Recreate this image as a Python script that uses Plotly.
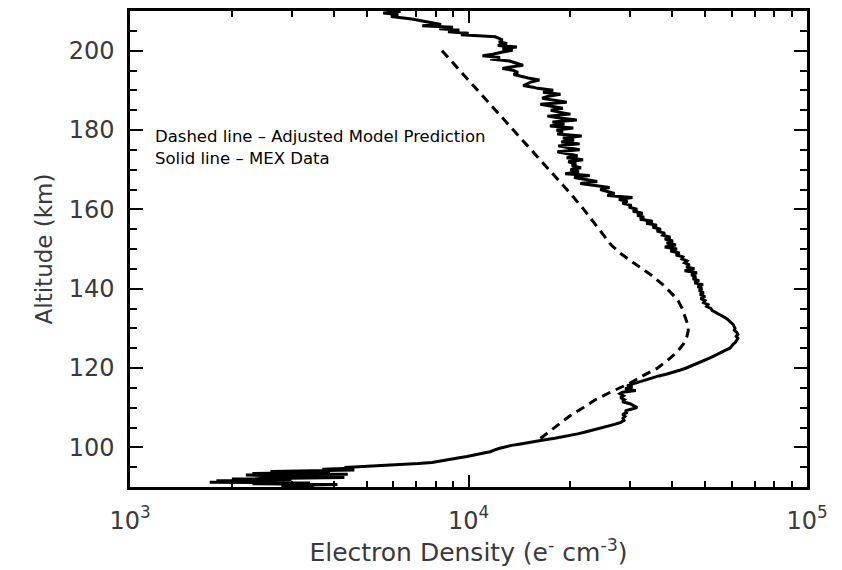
import plotly.graph_objects as go

# ---------------- data ----------------
model_alt = [200, 196, 192, 188, 184, 180, 176, 172, 168, 164, 160, 156, 153, 151, 149, 147,
             145, 143, 141, 139, 137, 135, 133, 131, 129.5, 128, 126, 124, 122, 120, 118, 116,
             114, 112, 110, 108, 106, 104, 102, 101.5]
model_ne = [8350, 9200, 10150, 11200, 12350, 13600, 15000, 16500, 18200, 20000, 21900, 23800,
            25200, 26400, 28000, 30100, 32600, 35200, 37500, 39600, 41600, 42800, 43700, 44400,
            44600, 44200, 43100, 41300, 38800, 36200, 32700, 29700, 26400, 23700, 21800, 20000,
            18600, 17300, 16200, 15900]

mex_alt = [
    209.9, 209.5, 209.1, 208.6, 208.0, 207.3, 206.6, 206.3, 205.9, 205.5, 205.2, 204.8, 204.4,
    204.0, 203.7, 203.5, 203.1, 202.7, 202.2, 201.8, 201.3, 200.9, 200.5, 200.1, 199.6, 199.1,
    198.7, 198.3, 197.9, 197.4, 196.9, 196.3, 195.9, 195.5, 195.0, 194.5, 194.0, 193.6, 193.1,
    192.6, 192.1, 191.6, 191.2, 190.8,
    190.5, 190.0, 189.5, 189.0, 188.5, 188.0, 187.5, 187.0, 186.5, 186.0, 185.5, 185.0, 184.5,
    184.0, 183.5, 183.0, 182.5, 182.0, 181.5, 181.0, 180.5, 180.0, 179.5, 179.0, 178.5, 178.0,
    177.5, 177.0, 176.5, 176.0, 175.5, 175.0, 174.5, 174.0, 173.5, 173.0, 172.5, 172.0, 171.5,
    171.0, 170.5, 170.0, 169.5, 169.0, 168.5, 168.0, 167.5, 167.0, 166.5, 166.0, 165.5, 165.0,
    164.5, 164.0, 163.5, 163.0, 162.5, 162.0, 161.5, 161.0, 160.5, 160.0, 159.5, 159.0, 158.5,
    158.0, 157.5, 157.0, 156.5, 156.0, 155.5, 155.0, 154.5, 154.0, 153.5, 153.0, 152.5, 152.0,
    151.5, 151.0, 150.5, 150.0, 149.5, 149.0, 148.5, 148.0, 147.5, 147.0, 146.5, 146.0, 145.5,
    145.0, 144.5, 144.0, 143.5, 143.0, 142.5, 142.0, 141.5, 141.0, 140.5, 140.0, 139.5, 139.0,
    138.5, 138.0, 137.5, 137.0, 136.5, 136.0, 135.5, 135.0,
    134.5, 134.0, 133.5, 133.0, 132.5, 132.0, 131.5, 131.0, 130.5, 130.0, 129.5, 129.0, 128.5,
    128.0, 127.5, 127.0, 126.5, 126.0, 125.5, 125.0, 124.5, 124.0, 123.5, 123.0, 122.5, 122.0,
    121.5, 121.0, 120.5, 120.0, 119.5, 119.0, 118.5, 118.0, 117.5, 117.0, 116.5, 116.0, 115.5,
    115.2, 114.8, 114.3, 113.9, 113.5, 113.0, 112.5, 112.0, 111.5, 111.0, 110.5, 110.0, 109.6,
    109.2, 108.8, 108.3, 107.8, 107.3, 106.8, 106.3, 105.8, 105.4, 105.0, 104.6, 104.2, 103.8,
    103.4, 103.0, 102.6, 102.3, 102.0, 101.7, 101.4, 101.1, 100.8, 100.5, 100.1, 99.7, 99.3,
    98.9, 98.5, 98.1, 97.7, 97.3, 96.9, 96.5, 96.2, 95.9, 95.7, 95.5, 95.3, 95.1, 94.9,
    94.7, 94.5, 94.3, 94.1, 93.9, 93.7, 93.4, 93.2, 93.0, 92.8, 92.6, 92.4, 92.2, 92.0, 91.8,
    91.6, 91.4, 91.2, 91.0, 90.8, 90.6, 90.4, 90.2, 90.0]
mex_ne = [
    6300, 5600, 6200, 5900, 6800, 7600, 8300, 7300, 9000, 8200, 9400, 8700, 10000,
    9500, 10800, 12000, 12300, 12600, 12300, 13000, 12200, 13900, 12600, 13500, 12500, 11800,
    11000, 12400, 11600, 13200, 13800, 14500, 13300, 12600, 13600, 14000, 13600, 14200, 15000,
    16200, 15300, 14900, 14500, 15500,
    16000, 17800, 16600, 18700, 17200, 16500, 18000, 19500, 16300, 17800, 19000, 17500, 18500,
    20000, 17100, 18600, 20900, 17700, 19200, 17400, 20400, 18200, 19000, 18300, 21600, 19000,
    20500, 18800, 21300, 18400, 20000, 21300, 18300, 19800, 21000, 19500, 21800, 19700, 20800,
    20200, 21500, 20000, 21200, 19300, 22800, 20500, 22000, 24000, 21400, 23500, 26100, 24500,
    25600, 27000, 25700, 30500, 27800, 29500, 28500, 30300, 29800, 31500, 30600, 32700, 31500,
    33000, 32100, 35000, 33500, 36000, 35000, 37000, 36000, 38000, 37500, 39500, 38000, 40200,
    38500, 41000, 38000, 41300, 39500, 42000, 41000, 43000, 42700, 44200, 43500, 45000, 44000,
    46500, 43500, 47300, 45500, 47000, 46000, 48000, 46500, 49300, 47500, 49000, 48000, 49500,
    48300, 50000, 48500, 50000, 49500, 51000, 50500, 52000,
    52500, 54000, 55300, 56500, 57800, 58700, 59500, 60500, 60900, 61300, 61000, 62000, 62500,
    61800, 62500, 62000, 61500, 60500, 60000, 59200, 57500, 56000, 55000, 53000, 51500, 50000,
    48500, 46800, 45500, 44000, 42300, 40500, 38600, 36500, 34800, 33200, 31800, 30600, 29400,
    30500, 29000, 31200, 28500, 28000, 28700, 28100, 28900, 28500, 30000, 30800, 31500, 30200,
    29000, 29500, 28500, 29000, 28600, 28800, 28200, 27000, 26000, 25000, 24000, 23000, 22000,
    21000, 20000, 19000, 18000, 17000, 16300, 15500, 14800, 14100, 13400, 12700, 12300, 11900,
    11600, 11000, 10500, 9900, 9300, 8800, 8300, 7800, 7100, 6400, 5800, 5200, 4700, 4300,
    4500, 3700, 4600, 3400, 2600, 3900, 2300, 4400, 2200, 2800, 2400, 4300, 3100, 2000, 3000,
    1800, 2500, 1720, 3400, 2300, 4100, 2800, 3500, 3000]

x_major_vals = [1e3, 1e4, 1e5]
x_major_text = ["10<sup>3</sup>", "10<sup>4</sup>", "10<sup>5</sup>"]
x_minor_vals = [m * d for d in (1e3, 1e4) for m in range(2, 10)]
y_major_vals = [100, 120, 140, 160, 180, 200]

legend_lines = ["Dashed line \u2013 Adjusted Model Prediction", "Solid line \u2013 MEX Data"]
legend_alts = [178.3, 172.8]

FONT = "DejaVu Sans"
TXT = "#3a3a3a"

fig = go.Figure()
fig.add_trace(go.Scatter(x=model_ne, y=model_alt, mode="lines",
                         line=dict(color="black", width=3, dash="9px,6px"),
                         showlegend=False, hoverinfo="skip"))
fig.add_trace(go.Scatter(x=mex_ne, y=mex_alt, mode="lines",
                         line=dict(color="black", width=3),
                         showlegend=False, hoverinfo="skip"))

for txt, a in zip(legend_lines, legend_alts):
    fig.add_annotation(x=0.034, xref="paper", y=a, yref="y", text=txt, showarrow=False,
                       xanchor="left", yanchor="middle",
                       font=dict(family=FONT, size=16.5, color="black"))

fig.update_layout(
    width=842, height=570,
    margin=dict(l=130, r=35, t=8, b=83),
    paper_bgcolor="white", plot_bgcolor="white",
    xaxis=dict(type="log", range=[3, 5], showgrid=False, zeroline=False,
               showline=True, linecolor="black", linewidth=2.5, mirror="allticks",
               ticks="inside", ticklen=12, tickwidth=2, tickcolor="black",
               tickmode="array", tickvals=x_major_vals, ticktext=x_major_text,
               ticklabelstandoff=10,
               minor=dict(ticks="inside", ticklen=6, tickwidth=2, tickcolor="black",
                          tickmode="array", tickvals=x_minor_vals, showgrid=False),
               tickfont=dict(family=FONT, size=24, color=TXT),
               title=dict(text="Electron Density (e<sup>-</sup> cm<sup>-3</sup>)",
                          font=dict(family=FONT, size=25, color=TXT), standoff=8)),
    yaxis=dict(range=[90, 210], showgrid=False, zeroline=False,
               showline=True, linecolor="black", linewidth=2.5, mirror="allticks",
               ticks="inside", ticklen=13, tickwidth=2, tickcolor="black",
               tickmode="array", tickvals=y_major_vals,
               ticklabelstandoff=8,
               minor=dict(ticks="inside", ticklen=7, tickwidth=2, tickcolor="black",
                          dtick=5, showgrid=False),
               tickfont=dict(family=FONT, size=24, color=TXT),
               title=dict(text="Altitude (km)",
                          font=dict(family=FONT, size=23, color=TXT), standoff=10)),
)

fig.write_html("out.html")
